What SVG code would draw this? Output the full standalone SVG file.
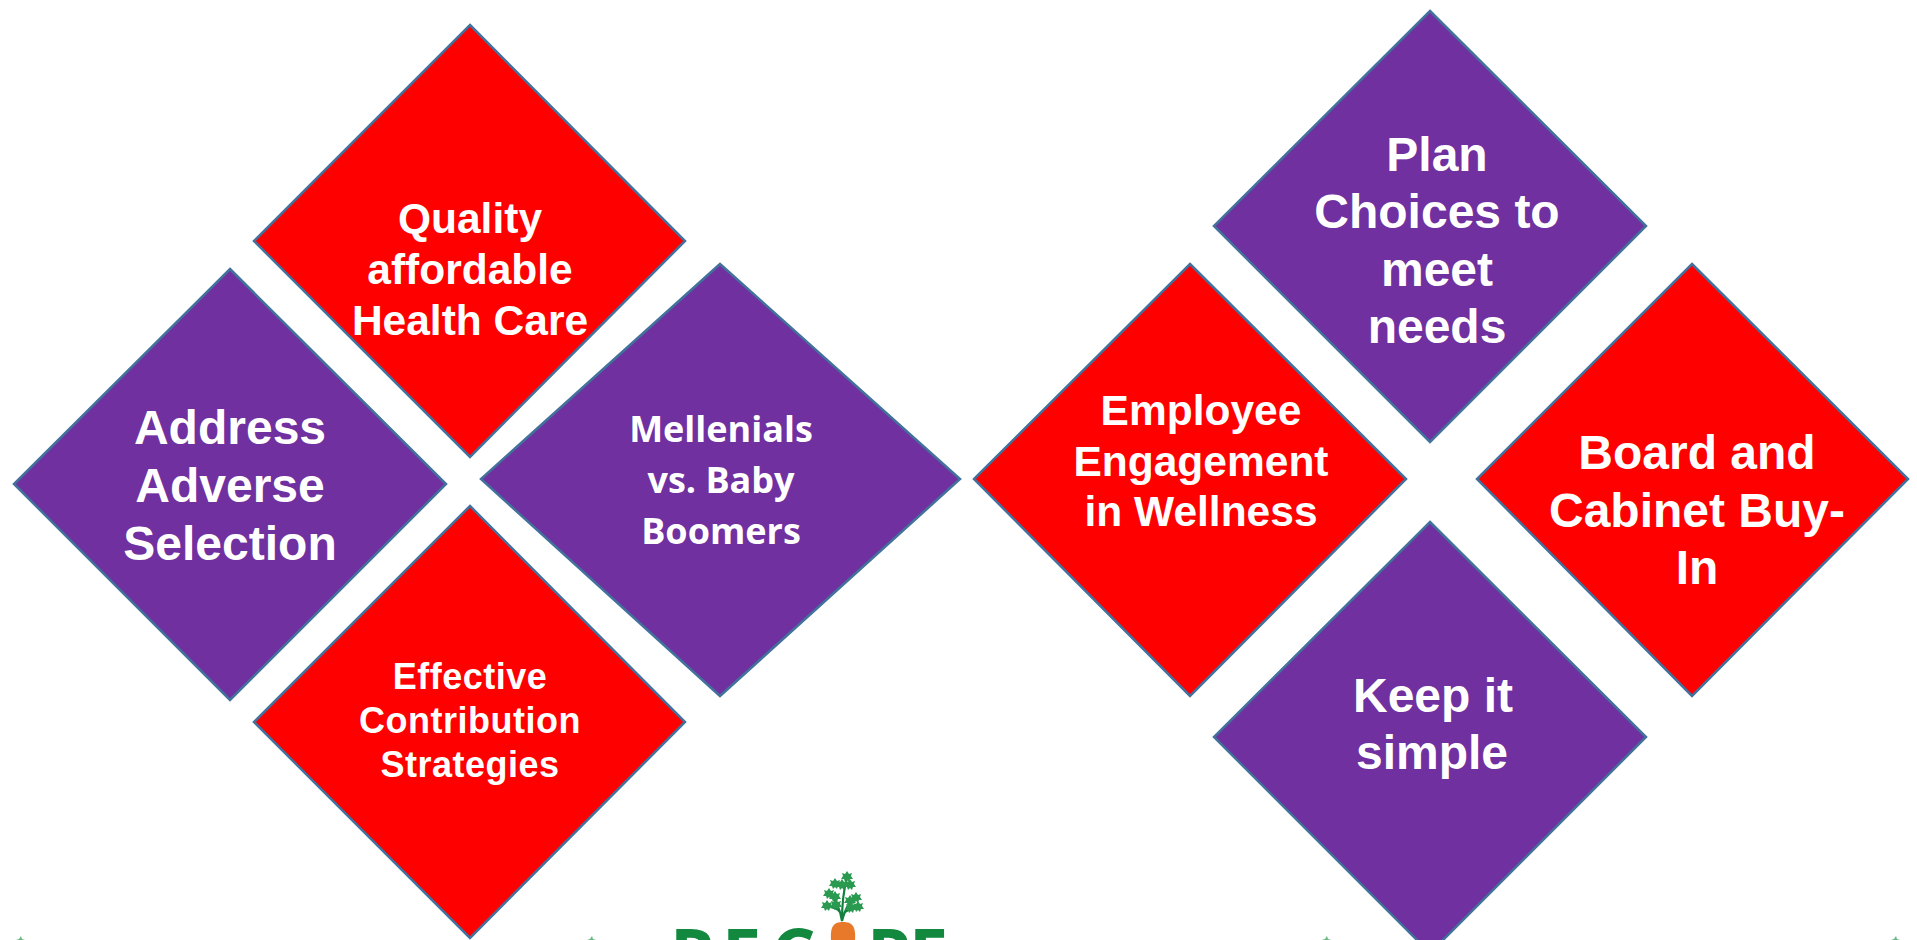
<svg xmlns="http://www.w3.org/2000/svg" width="1917" height="940" viewBox="0 0 1917 940">
<style>
.d{stroke:#41719c;stroke-width:2.5}
.r{fill:#ff0000}
.p{fill:#7030a0}
text{fill:#fff;text-anchor:middle;font-weight:700}
.a{font-family:"Liberation Sans",Arial,sans-serif}
.c{font-family:"Open Sans","Noto Sans",sans-serif}
.lg{fill:#2a9a50}
.logo{fill:#12893f;font-family:"Open Sans","Liberation Sans",sans-serif;font-weight:700;text-anchor:start;font-size:70px}
</style>
<defs><path id="leaf" d="M0,-6L2,-3L5,-4L4,-1L6,2L3,2L2,5L0,3L-2,5L-3,2L-6,2L-4,-1L-5,-4L-2,-3Z"/></defs>
<rect width="1917" height="940" fill="#fff"/>
<g id="node-quality"><polygon class="d r" points="470,25 685,241 470,457 254,241"/>
<text class="a" font-size="42.5"><tspan x="470" y="233">Quality</tspan><tspan x="470" y="284">affordable</tspan><tspan x="470" y="335">Health Care</tspan></text></g>
<g id="node-address"><polygon class="d p" points="230,269 446,484 230,700 14,484"/>
<text class="a" font-size="48"><tspan x="230" y="444">Address</tspan><tspan x="230" y="502">Adverse</tspan><tspan x="230" y="560">Selection</tspan></text></g>
<g id="node-mellenials"><polygon class="d p" points="720,264 960,479 720,696 481,479"/>
<text class="c" font-size="36"><tspan x="721" y="442">Mellenials</tspan><tspan x="721" y="493">vs. Baby</tspan><tspan x="721" y="544">Boomers</tspan></text></g>
<g id="node-effective"><polygon class="d r" points="470,506 685,722 470,938 254,722"/>
<text class="a" font-size="36" letter-spacing=".5"><tspan x="470" y="689">Effective</tspan><tspan x="470" y="733">Contribution</tspan><tspan x="470" y="777">Strategies</tspan></text></g>
<g id="node-plan"><polygon class="d p" points="1430,11 1646,226 1430,442 1214,226"/>
<text class="a" font-size="48"><tspan x="1437" y="171">Plan</tspan><tspan x="1437" y="228">Choices to</tspan><tspan x="1437" y="286">meet</tspan><tspan x="1437" y="343">needs</tspan></text></g>
<g id="node-employee"><polygon class="d r" points="1190,264 1406,479 1190,696 974,479"/>
<text class="a" font-size="42.5"><tspan x="1201" y="425">Employee</tspan><tspan x="1201" y="476">Engagement</tspan><tspan x="1201" y="526">in Wellness</tspan></text></g>
<g id="node-board"><polygon class="d r" points="1692,264 1908,479 1692,696 1477,479"/>
<text class="a" font-size="48"><tspan x="1697" y="469">Board and</tspan><tspan x="1697" y="527">Cabinet Buy-</tspan><tspan x="1697" y="584">In</tspan></text></g>
<g id="node-keep"><polygon class="d p" points="1430,522 1646,737 1430,953 1214,737"/>
<text class="a" font-size="48"><tspan x="1433" y="712">Keep it</tspan><tspan x="1432" y="769">simple</tspan></text></g>
<g id="connectors"/>
<g id="logo">
<text class="logo" x="670 722 771" y="979">REC</text>
<text class="logo" x="867 909" y="979">PE</text>
<path d="M831,940C830,926 834,922 843,922C852,922 856,926 855,940Z" fill="#e8792b"/>
<path d="M842,921C840,908 836,900 829,893M842,921C842,905 843,892 847,878M842,921C845,910 848,903 855,898M840,912C837,908 833,907 827,907M845,912C849,909 853,908 859,908" stroke="#14803f" stroke-width="2.2" fill="none"/>
<g class="lg">
<use href="#leaf" x="847" y="877"/><use href="#leaf" x="850" y="885"/><use href="#leaf" x="842" y="885"/><use href="#leaf" x="835" y="884"/>
<use href="#leaf" x="829" y="894"/><use href="#leaf" x="835" y="897"/><use href="#leaf" x="827" y="906"/><use href="#leaf" x="836" y="905"/>
<use href="#leaf" x="856" y="898"/><use href="#leaf" x="850" y="901"/><use href="#leaf" x="858" y="907"/><use href="#leaf" x="851" y="908"/>
</g>
</g>
<g id="corner-marks" class="lg" opacity=".7">
<path d="M16,940l3,-1l2,-3l1,3l3,1Z"/><path d="M587,940l3,-1l2,-3l1,3l3,1Z"/><path d="M1322,940l3,-1l2,-3l1,3l3,1Z"/><path d="M1891,940l3,-1l2,-3l1,3l3,1Z"/>
</g>
</svg>
